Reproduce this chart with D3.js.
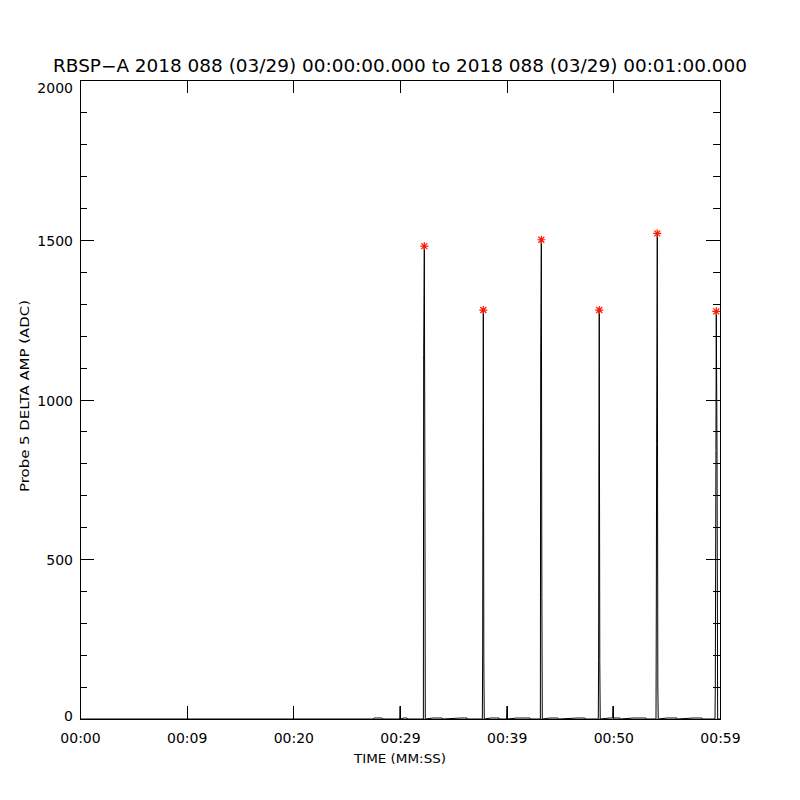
<!DOCTYPE html>
<html>
<head>
<meta charset="utf-8">
<script src="https://cdn.jsdelivr.net/npm/d3@7"></script>
<style>
  body { margin: 0; background: #fff; }
  text { font-family: "DejaVu Sans", sans-serif; fill: #000; }
</style>
</head>
<body>
<svg id="chart" width="800" height="800"></svg>
<script>
// seconds since 00:00:00 and probe amplitude (ADC)
var times = [0, 27.50, 27.56, 28.31, 28.40,
  29.98, 30.01, 30.04, 30.37, 30.66, 30.70,
  32.19, 32.22, 32.28, 32.33, 32.37,
  33.09, 33.94, 34.00, 35.72, 36.28, 36.30,
  37.72, 37.75, 37.78, 37.81, 37.86, 37.90,
  38.53, 39.28, 39.30,
  40.00, 40.03, 40.06, 40.97, 42.19, 42.20,
  43.16, 43.19, 43.25, 43.30, 43.34,
  44.06, 44.81, 44.85, 46.69, 47.34, 47.40,
  48.59, 48.62, 48.65, 48.68, 48.73, 48.77,
  49.69, 49.94, 49.97, 50.00, 50.62, 50.65,
  51.84, 53.06, 53.10,
  54.00, 54.03, 54.06, 54.12, 54.17, 54.21,
  55.03, 55.97, 56.00, 57.47, 58.31, 58.35,
  59.53, 59.56, 59.62, 59.65, 59.72, 59.78, 60.00]
var amps = [0, 0, 3, 3, 0,
  0, 40, 0, 3, 3, 0,
  0, 1140, 1480, 820, 0,
  3, 3, 0, 3, 3, 0,
  0, 200, 840, 1280, 176, 0,
  3, 3, 0,
  0, 40, 0, 3, 3, 0,
  0, 1130, 1500, 380, 0,
  3, 3, 0, 3, 3, 0,
  0, 185, 830, 1280, 180, 0,
  3, 3, 40, 3, 3, 0,
  3, 3, 0,
  0, 360, 860, 1520, 100, 0,
  3, 3, 0, 3, 3, 0,
  0, 100, 840, 1276, 840, 0, 0]

var peakTimes = [32.28, 37.81, 43.25, 48.68, 54.12, 59.65]
var peakAmps = [1480, 1280, 1500, 1280, 1520, 1276]

var xTicks = [0, 10, 20, 30, 40, 50, 60]
var xTickLabels = ["00:00", "00:09", "00:20", "00:29", "00:39", "00:50", "00:59"]
var yTicks = [0, 500, 1000, 1500, 2000]
var yMinor = d3.range(0, 2001, 100)

var plotL = 80, plotR = 720, plotT = 80, plotB = 719

var x = d3.scaleLinear().domain([0, 60]).range([plotL, plotR])
var y = d3.scaleLinear().domain([0, 2000]).range([plotB, plotT])

var svg = d3.select("#chart")

svg.append("text")
  .attr("x", 400)
  .attr("y", 72)
  .attr("text-anchor", "middle")
  .attr("textLength", 694)
  .attr("lengthAdjust", "spacingAndGlyphs")
  .style("font-size", "17px")
  .text("RBSP\u2212A 2018 088 (03/29) 00:00:00.000 to 2018 088 (03/29) 00:01:00.000")

// frame
svg.append("rect")
  .attr("x", plotL + 0.5).attr("y", plotT + 0.5)
  .attr("width", plotR - plotL).attr("height", plotB - plotT)
  .attr("fill", "none").attr("stroke", "#000")
  .attr("shape-rendering", "crispEdges")

// y axes (ticks point inward)
var yLeft = svg.append("g")
  .attr("transform", "translate(" + plotL + ",0)")
  .call(d3.axisLeft(y).tickValues(yTicks).tickSize(-14).tickSizeOuter(0).tickPadding(7)
    .tickFormat(d3.format("d")))
yLeft.selectAll("text")
  .style("font-size", "14px")
  .attr("dy", function(d) { return d == 2000 ? "0.9em" : (d == 0 ? "0.1em" : "0.4em") })

svg.append("g")
  .attr("transform", "translate(" + plotL + ",0)")
  .call(d3.axisLeft(y).tickValues(yMinor).tickSize(-7).tickSizeOuter(0).tickFormat(""))

svg.append("g")
  .attr("transform", "translate(" + plotR + ",0)")
  .call(d3.axisRight(y).tickValues(yTicks).tickSize(-14).tickSizeOuter(0).tickFormat(""))

svg.append("g")
  .attr("transform", "translate(" + plotR + ",0)")
  .call(d3.axisRight(y).tickValues(yMinor).tickSize(-7).tickSizeOuter(0).tickFormat(""))

// x axes
var xBottom = svg.append("g")
  .attr("transform", "translate(0," + plotB + ")")
  .call(d3.axisBottom(x).tickValues(xTicks).tickSize(-13).tickSizeOuter(0).tickPadding(14)
    .tickFormat(function(d, i) { return xTickLabels[i] }))
xBottom.selectAll("text").style("font-size", "14px")

svg.append("g")
  .attr("transform", "translate(0," + plotT + ")")
  .call(d3.axisTop(x).tickValues(xTicks).tickSize(-13).tickSizeOuter(0).tickFormat(""))

svg.selectAll(".domain").remove()
svg.selectAll(".tick line").attr("shape-rendering", "crispEdges")

svg.append("text")
  .attr("x", 400)
  .attr("y", 763)
  .attr("text-anchor", "middle")
  .attr("textLength", 92)
  .attr("lengthAdjust", "spacingAndGlyphs")
  .style("font-size", "13px")
  .text("TIME (MM:SS)")

svg.append("text")
  .attr("transform", "translate(29,396) rotate(-90)")
  .attr("text-anchor", "middle")
  .attr("textLength", 192)
  .attr("lengthAdjust", "spacingAndGlyphs")
  .style("font-size", "13px")
  .text("Probe 5 DELTA AMP (ADC)")

// data trace
var pts = times.map(function(t, i) { return [t, amps[i]] })
svg.append("path")
  .datum(pts)
  .attr("fill", "none")
  .attr("stroke", "#000")
  .attr("stroke-width", 1)
  .attr("d", d3.line().x(function(d) { return x(d[0]) }).y(function(d) { return y(d[1]) }))

// red asterisks at the peaks
svg.selectAll(".star")
  .data(peakTimes)
  .enter()
  .append("path")
  .attr("class", "star")
  .attr("transform", function(d, i) { return "translate(" + x(d) + "," + y(peakAmps[i]) + ")" })
  .attr("d", "M-4,0H4M0,-4V4M-3,-3L3,3M-3,3L3,-3")
  .attr("stroke", "#ff1a00")
  .attr("stroke-width", 1.2)
  .attr("fill", "none")
</script>
</body>
</html>
